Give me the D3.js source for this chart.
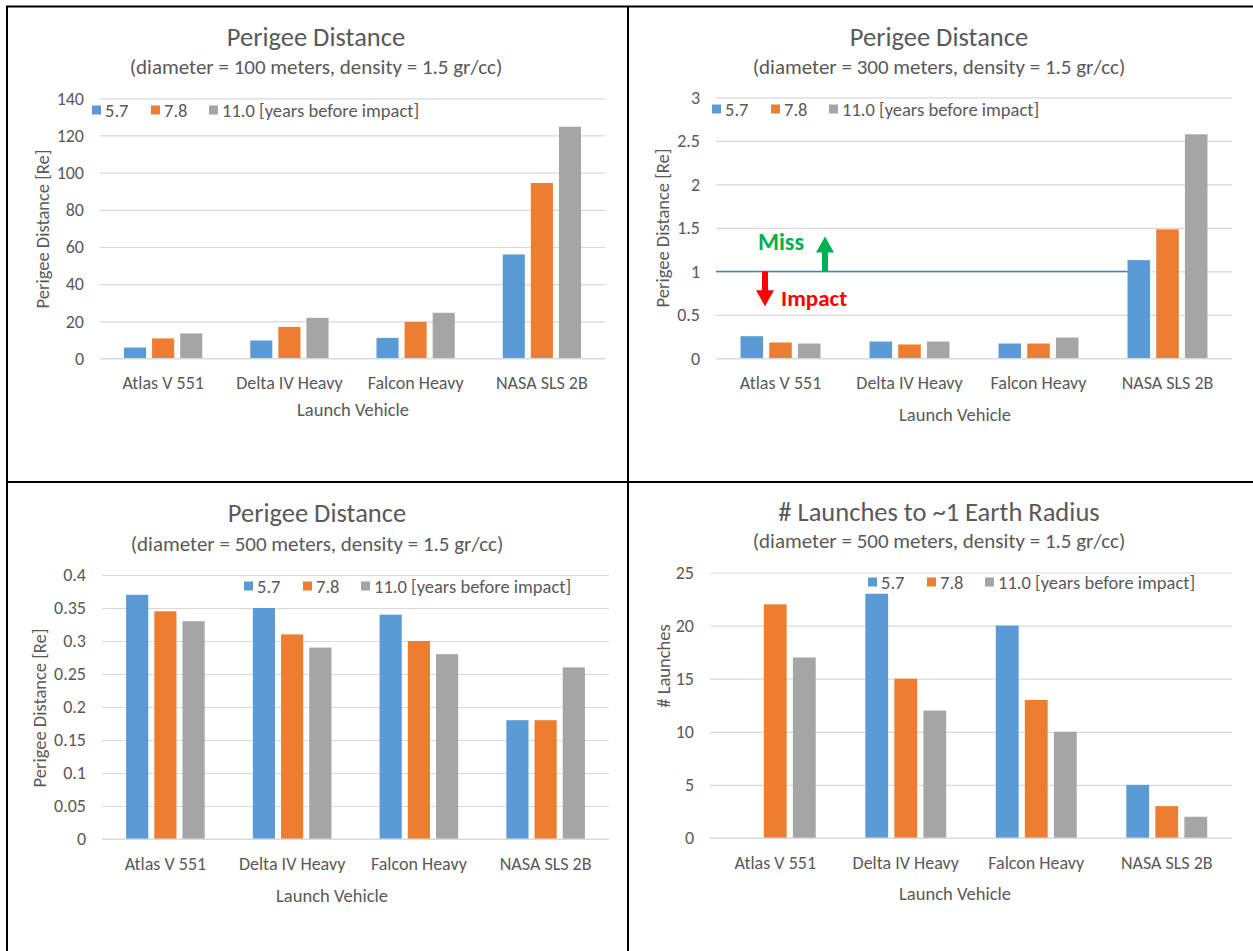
<!DOCTYPE html>
<html>
<head>
<meta charset="utf-8">
<script src="https://cdn.jsdelivr.net/npm/d3@7"></script>
<style>
  html, body { margin: 0; padding: 0; background: #fff; }
  svg { display: block; }
  text { font-family: Carlito, Lato, "Open Sans", sans-serif; fill: #595959; }
</style>
</head>
<body>
<svg id="chart" width="1253" height="951"></svg>
<script>
// ---------------- DATA ----------------
const categories = ["Atlas V 551", "Delta IV Heavy", "Falcon Heavy", "NASA SLS 2B"];
const seriesKeys = ["5.7", "7.8", "11.0"];
const legendLabels = ["5.7", "7.8", "11.0 [years before impact]"];
const seriesColors = ["#5B9BD5", "#ED7D31", "#A5A5A5"];

// Perigee distance [Re], diameter 100 m (one array per series, in category order)
const perigee100_57 = [5.9, 9.7, 11.1, 56];
const perigee100_78 = [10.8, 17.0, 19.7, 94.4];
const perigee100_110 = [13.5, 21.9, 24.6, 124.7];

// Perigee distance [Re], diameter 300 m
const perigee300_57 = [0.256, 0.195, 0.172, 1.13];
const perigee300_78 = [0.184, 0.161, 0.172, 1.483];
const perigee300_110 = [0.172, 0.195, 0.241, 2.575];

// Perigee distance [Re], diameter 500 m
const perigee500_57 = [0.37, 0.35, 0.34, 0.18];
const perigee500_78 = [0.345, 0.31, 0.30, 0.18];
const perigee500_110 = [0.33, 0.29, 0.28, 0.26];

// # launches to ~1 Earth radius, diameter 500 m (no bar for Atlas at 5.7)
const launches_57 = [null, 23, 20, 5];
const launches_78 = [22, 15, 13, 3];
const launches_110 = [17, 12, 10, 2];

// Tick values
const ticks100 = [0, 20, 40, 60, 80, 100, 120, 140];
const ticks300 = [0, 0.5, 1, 1.5, 2, 2.5, 3];
const ticks500 = [0, 0.05, 0.1, 0.15, 0.2, 0.25, 0.3, 0.35, 0.4];
const ticksLaunch = [0, 5, 10, 15, 20, 25];

const missThreshold = 1;   // 1 Earth radius line (300 m panel)

// ---------------- DRAWING ----------------
const svg = d3.select("#chart");
const FONT = "Carlito, Lato, 'Open Sans', sans-serif";
const FS_TICK = 18, FS_CAT = 18, FS_LEG = 18.5, FS_TITLE = 26.5, FS_SUB = 21, FS_AXT = 18.5;

function drawPanel(cfg) {
  const g = svg.append("g");
  const x0 = d3.scaleBand().domain(categories).range([cfg.left, cfg.right]).padding(0);
  const bw = x0.bandwidth();
  const x1 = d3.scaleBand().domain(seriesKeys).range([bw * 0.19, bw * 0.81]).paddingInner(0.214);
  const y = d3.scaleLinear().domain([0, d3.max(cfg.ticks)]).range([cfg.bottom, cfg.top]);

  // gridlines via axis
  const grid = g.append("g")
    .attr("transform", `translate(${cfg.left},0)`)
    .call(d3.axisLeft(y).tickValues(cfg.ticks).tickSize(-(cfg.right - cfg.left)).tickFormat(""));
  grid.select(".domain").remove();
  grid.selectAll(".tick line").attr("stroke", "#D9D9D9").attr("stroke-width", 1.2);

  // tick labels via axis
  const yAx = g.append("g")
    .attr("transform", `translate(${cfg.left - 16},0)`)
    .call(d3.axisLeft(y).tickValues(cfg.ticks).tickSize(0).tickPadding(0).tickFormat(d3.format("")));
  yAx.select(".domain").remove();
  yAx.selectAll("text").attr("font-family", FONT).attr("font-size", FS_TICK).attr("fill", "#595959");

  // bars
  const rows = [];
  cfg.series.forEach((arr, si) => {
    arr.forEach((v, ci) => {
      if (v !== null && v !== undefined) rows.push({ cat: categories[ci], key: seriesKeys[si], v, si });
    });
  });
  g.append("g").selectAll("rect").data(rows).join("rect")
    .attr("x", d => x0(d.cat) + x1(d.key))
    .attr("width", x1.bandwidth())
    .attr("y", d => y(d.v))
    .attr("height", d => y(0) - y(d.v))
    .attr("fill", d => seriesColors[d.si]);

  // zero line redraw (on top)
  g.append("line")
    .attr("x1", cfg.left).attr("x2", cfg.right)
    .attr("y1", y(0)).attr("y2", y(0))
    .attr("stroke", "#D9D9D9").attr("stroke-width", 1.2);

  // category labels via axis
  const xAx = g.append("g")
    .attr("transform", `translate(0,${cfg.catY})`)
    .call(d3.axisBottom(x0).tickSize(0).tickPadding(0));
  xAx.select(".domain").remove();
  xAx.selectAll("text").attr("font-family", FONT).attr("font-size", FS_CAT)
    .attr("fill", "#595959").attr("dy", "0.35em");

  // titles
  g.append("text").attr("x", cfg.titleX).attr("y", cfg.titleY)
    .attr("text-anchor", "middle").attr("dominant-baseline", "central")
    .attr("font-size", FS_TITLE).text(cfg.title);
  g.append("text").attr("x", cfg.titleX).attr("y", cfg.subY)
    .attr("text-anchor", "middle").attr("dominant-baseline", "central")
    .attr("font-size", FS_SUB).text(cfg.subtitle);

  // axis titles
  g.append("text").attr("x", cfg.xTitleX).attr("y", cfg.xTitleY)
    .attr("text-anchor", "middle").attr("dominant-baseline", "central")
    .attr("font-size", FS_AXT).text("Launch Vehicle");
  g.append("text")
    .attr("transform", `translate(${cfg.yTitleX},${cfg.yTitleY}) rotate(-90)`)
    .attr("text-anchor", "middle").attr("dominant-baseline", "central")
    .attr("font-size", FS_AXT).text(cfg.yTitle);

  // legend
  const offs = [0, 59, 117];
  const lg = g.append("g").attr("transform", `translate(${cfg.legX},${cfg.legY})`);
  legendLabels.forEach((lab, i) => {
    lg.append("rect").attr("x", offs[i]).attr("y", -4.5).attr("width", 9).attr("height", 9)
      .attr("fill", seriesColors[i]);
    lg.append("text").attr("x", offs[i] + 13).attr("y", 0)
      .attr("dominant-baseline", "central").attr("font-size", FS_LEG).text(lab);
  });

  return { g, x0, x1, y };
}

// Panel 1
drawPanel({
  left: 100, right: 605, top: 98.3, bottom: 358.5,
  ticks: ticks100,
  series: [perigee100_57, perigee100_78, perigee100_110],
  title: "Perigee Distance", subtitle: "(diameter = 100 meters, density = 1.5 gr/cc)",
  titleX: 316, titleY: 37, subY: 67,
  catY: 383, xTitleX: 353, xTitleY: 409,
  yTitle: "Perigee Distance [Re]", yTitleX: 42, yTitleY: 229,
  legX: 92, legY: 110
});

// Panel 2
const p2 = drawPanel({
  left: 716, right: 1232, top: 97.3, bottom: 358.5,
  ticks: ticks300,
  series: [perigee300_57, perigee300_78, perigee300_110],
  title: "Perigee Distance", subtitle: "(diameter = 300 meters, density = 1.5 gr/cc)",
  titleX: 939, titleY: 37, subY: 67,
  catY: 383, xTitleX: 955, xTitleY: 414,
  yTitle: "Perigee Distance [Re]", yTitleX: 662, yTitleY: 228,
  legX: 712, legY: 109
});

// threshold line + annotations on panel 2
(function () {
  const { g, x0, x1, y } = p2;
  const yl = y(missThreshold);
  g.append("line")
    .attr("x1", 716).attr("x2", x0("NASA SLS 2B") + x1("5.7"))
    .attr("y1", yl).attr("y2", yl)
    .attr("stroke", "#4A7EBB").attr("stroke-width", 1.5);

  // green up arrow (Miss)
  const gx = 825, gTip = y(1.4), headH = 16, headW = 9, shaft = 3;
  g.append("path")
    .attr("d", `M${gx - shaft},${yl} L${gx - shaft},${gTip + headH} L${gx - headW},${gTip + headH} L${gx},${gTip} L${gx + headW},${gTip + headH} L${gx + shaft},${gTip + headH} L${gx + shaft},${yl} Z`)
    .attr("fill", "#00B050");
  // red down arrow (Impact)
  const rx = 765, rTip = y(0.6);
  g.append("path")
    .attr("d", `M${rx - shaft},${yl} L${rx - shaft},${rTip - headH} L${rx - headW},${rTip - headH} L${rx},${rTip} L${rx + headW},${rTip - headH} L${rx + shaft},${rTip - headH} L${rx + shaft},${yl} Z`)
    .attr("fill", "#FF0000");

  g.append("text").attr("x", 781).attr("y", 241)
    .attr("text-anchor", "middle").attr("dominant-baseline", "central")
    .attr("font-size", 24).attr("font-weight", "bold").style("fill", "#00B050").text("Miss");
  g.append("text").attr("x", 781).attr("y", 298)
    .attr("text-anchor", "start").attr("dominant-baseline", "central")
    .attr("font-size", 23).attr("font-weight", "bold").style("fill", "#FF0000").text("Impact");
})();

// Panel 3
drawPanel({
  left: 102, right: 609, top: 575, bottom: 839,
  ticks: ticks500,
  series: [perigee500_57, perigee500_78, perigee500_110],
  title: "Perigee Distance", subtitle: "(diameter = 500 meters, density = 1.5 gr/cc)",
  titleX: 317, titleY: 513, subY: 544,
  catY: 864, xTitleX: 332, xTitleY: 895,
  yTitle: "Perigee Distance [Re]", yTitleX: 39, yTitleY: 708,
  legX: 244, legY: 586
});

// Panel 4
drawPanel({
  left: 710, right: 1232, top: 572.5, bottom: 838,
  ticks: ticksLaunch,
  series: [launches_57, launches_78, launches_110],
  title: "# Launches to ~1 Earth Radius", subtitle: "(diameter = 500 meters, density = 1.5 gr/cc)",
  titleX: 939, titleY: 512, subY: 541,
  catY: 863, xTitleX: 955, xTitleY: 893,
  yTitle: "# Launches", yTitleX: 663, yTitleY: 666,
  legX: 868, legY: 582
});

// table frame lines
const frame = svg.append("g").attr("stroke", "#000").attr("stroke-width", 2);
frame.append("line").attr("x1", 6).attr("x2", 1253).attr("y1", 6.5).attr("y2", 6.5);
frame.append("line").attr("x1", 7).attr("x2", 7).attr("y1", 6).attr("y2", 951);
frame.append("line").attr("x1", 628).attr("x2", 628).attr("y1", 6).attr("y2", 951);
frame.append("line").attr("x1", 6).attr("x2", 1253).attr("y1", 482).attr("y2", 482);
</script>
</body>
</html>
